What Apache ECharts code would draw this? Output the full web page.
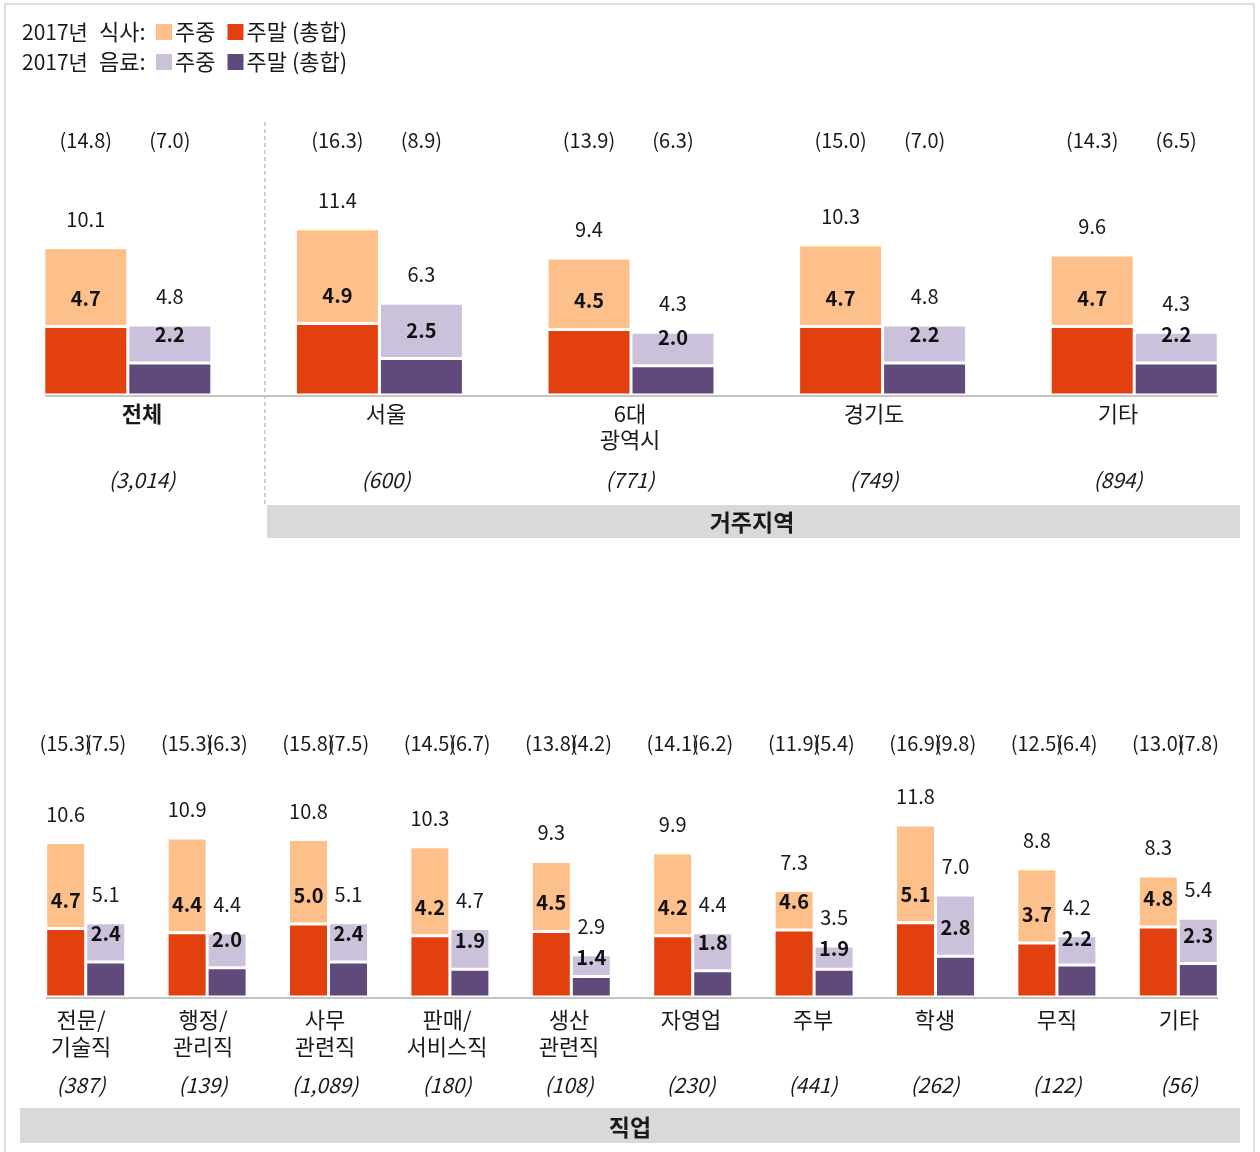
<!DOCTYPE html>
<html>
<head>
<meta charset="utf-8">
<script src="https://cdn.jsdelivr.net/npm/echarts@6/dist/echarts.min.js"></script>
<style>
html,body{margin:0;padding:0;background:#fff;}
#chart{width:1260px;height:1152px;}
</style>
</head>
<body>
<div id="chart"></div>
<script>
// ---- data: 거주지역 ----
const regionCats = ['전체', '서울', '6대\n광역시', '경기도', '기타'];
const regionN = ['(3,014)', '(600)', '(771)', '(749)', '(894)'];
const regionMealTotal = [10.1, 11.4, 9.4, 10.3, 9.6];
const regionMealWeekend = [4.7, 4.9, 4.5, 4.7, 4.7];
const regionDrinkTotal = [4.8, 6.3, 4.3, 4.8, 4.3];
const regionDrinkWeekend = [2.2, 2.5, 2.0, 2.2, 2.2];
const regionMealSum = ['(14.8)', '(16.3)', '(13.9)', '(15.0)', '(14.3)'];
const regionDrinkSum = ['(7.0)', '(8.9)', '(6.3)', '(7.0)', '(6.5)'];

// ---- data: 직업 ----
const jobCats = ['전문/\n기술직', '행정/\n관리직', '사무\n관련직', '판매/\n서비스직', '생산\n관련직', '자영업', '주부', '학생', '무직', '기타'];
const jobN = ['(387)', '(139)', '(1,089)', '(180)', '(108)', '(230)', '(441)', '(262)', '(122)', '(56)'];
const jobMealTotal = [10.6, 10.9, 10.8, 10.3, 9.3, 9.9, 7.3, 11.8, 8.8, 8.3];
const jobMealWeekend = [4.7, 4.4, 5.0, 4.2, 4.5, 4.2, 4.6, 5.1, 3.7, 4.8];
const jobDrinkTotal = [5.1, 4.4, 5.1, 4.7, 2.9, 4.4, 3.5, 7.0, 4.2, 5.4];
const jobDrinkWeekend = [2.4, 2.0, 2.4, 1.9, 1.4, 1.8, 1.9, 2.8, 2.2, 2.3];
const jobMealSum = ['(15.3)', '(15.3)', '(15.8)', '(14.5)', '(13.8)', '(14.1)', '(11.9)', '(16.9)', '(12.5)', '(13.0)'];
const jobDrinkSum = ['(7.5)', '(6.3)', '(7.5)', '(6.7)', '(4.2)', '(6.2)', '(5.4)', '(9.8)', '(6.4)', '(7.8)'];

// ---- style ----
const FONT = '"Noto Sans CJK KR", "Noto Sans", sans-serif';
const C_MEAL_WD = '#FEC08A', C_MEAL_WE = '#E2400E', C_DRK_WD = '#CBC1DB', C_DRK_WE = '#604A7B';
const TXT = '#1a1a1a';
const fmt = v => v.toFixed(1);
const sub = (a, b) => a.map((v, i) => +(v - b[i]).toFixed(2));

const PXU = 14.58, YMAX = 16, H = PXU * YMAX;
const TOP_BASE = 395, BOT_BASE = 997;
const MIN_SEP = 31; // minimum vertical separation between the two value labels of a bar

function barSeries(xi, yi, stack, weekend, total, cWe, cWd, width, nameWe, nameWd) {
  const common = {
    type: 'bar', xAxisIndex: xi, yAxisIndex: yi, stack: stack, barWidth: width, barGap: 0,
    animation: false
  };
  const weData = weekend.map((v, i) => {
    const sep = (total[i] - v) * PXU;
    const shift = sep < MIN_SEP ? MIN_SEP - sep : 0;
    return { value: v, label: { offset: [0, shift] } };
  });
  return [
    Object.assign({}, common, {
      name: nameWe, data: weData, z: 3,
      itemStyle: { color: cWe, borderColor: '#fff', borderWidth: 1.5 },
      label: { show: true, position: 'top', distance: 18.5, fontFamily: FONT, fontSize: 20, lineHeight: 20,
               fontWeight: 'bold', color: '#111', formatter: p => fmt(weekend[p.dataIndex]) }
    }),
    Object.assign({}, common, {
      name: nameWd, data: sub(total, weekend), z: 2,
      itemStyle: { color: cWd, borderColor: '#fff', borderWidth: 1.5 },
      label: { show: true, position: 'top', distance: 18.5, fontFamily: FONT, fontSize: 20, lineHeight: 20,
               color: TXT, formatter: p => fmt(total[p.dataIndex]) }
    })
  ];
}

function catLabelFormatter(cats, n, boldFirst) {
  return function (val, idx) {
    const lines = cats[idx].split('\n');
    if (lines.length === 1) lines.push(' ');
    const st = (boldFirst && idx === 0) ? 'b' : 'c';
    return lines.map(l => '{' + st + '|' + l + '}').join('\n') + '\n{n|' + n[idx] + '}';
  };
}
function sumFormatter(a, b) {
  return function (val, idx) { return '{a|' + a[idx] + '}{b|' + b[idx] + '}'; };
}

const chart = echarts.init(document.getElementById('chart'), null, { renderer: 'canvas' });

const legendBase = {
  itemWidth: 16, itemHeight: 16, itemGap: 12, icon: 'rect', selectedMode: false, padding: 0,
  itemStyle: { borderWidth: 0 },
  textStyle: { fontFamily: FONT, fontSize: 22, color: TXT, lineHeight: 22, padding: [0, 0, 0, -2] },
  formatter: n => n.replace(/^\S+ /, '')
};

const option = {
  animation: false,
  backgroundColor: '#fff',
  textStyle: { fontFamily: FONT },
  legend: [
    Object.assign({}, legendBase, { left: 156, top: 21, data: ['식사 주중', '식사 주말 (총합)'] }),
    Object.assign({}, legendBase, { left: 156, top: 51, data: ['음료 주중', '음료 주말 (총합)'] })
  ],
  grid: [
    { left: 2, width: 1258, top: TOP_BASE - H, height: H },
    { left: 20, width: 1220, top: 100, height: TOP_BASE - 100 },
    { left: 25, width: 1214, top: BOT_BASE - H, height: H },
    { left: 20, width: 1220, top: 700, height: BOT_BASE - 700 }
  ],
  xAxis: [
    { type: 'category', gridIndex: 0, data: regionCats, axisLine: { show: false }, axisTick: { show: false }, axisLabel: { show: false } },
    { type: 'category', gridIndex: 0, position: 'top', data: regionCats, axisLine: { show: false }, axisTick: { show: false },
      axisLabel: { interval: 0, margin: 11.7, formatter: sumFormatter(regionMealSum, regionDrinkSum),
        rich: { a: { width: 84, align: 'center', fontFamily: FONT, fontSize: 20, lineHeight: 20, color: TXT },
                b: { width: 84, align: 'center', fontFamily: FONT, fontSize: 20, lineHeight: 20, color: TXT } } } },
    { type: 'category', gridIndex: 1, data: regionCats, axisLine: { show: false }, axisTick: { show: false },
      axisLabel: { interval: 0, margin: 6, formatter: catLabelFormatter(regionCats, regionN, true),
        rich: { c: { fontFamily: FONT, fontSize: 22, lineHeight: 26, color: TXT, align: 'center' },
                b: { fontFamily: FONT, fontSize: 22, lineHeight: 26, color: TXT, fontWeight: 'bold', align: 'center' },
                n: { fontFamily: FONT, fontSize: 21, lineHeight: 54, color: TXT, fontStyle: 'italic', align: 'center' } } } },
    { type: 'category', gridIndex: 2, data: jobCats, axisLine: { show: false }, axisTick: { show: false }, axisLabel: { show: false } },
    { type: 'category', gridIndex: 2, position: 'top', data: jobCats, axisLine: { show: false }, axisTick: { show: false },
      axisLabel: { interval: 0, margin: 10.7, formatter: sumFormatter(jobMealSum, jobDrinkSum),
        rich: { a: { width: 40, align: 'center', fontFamily: FONT, fontSize: 20, lineHeight: 20, color: TXT },
                b: { width: 40, align: 'center', fontFamily: FONT, fontSize: 20, lineHeight: 20, color: TXT } } } },
    { type: 'category', gridIndex: 3, data: jobCats, axisLine: { show: false }, axisTick: { show: false },
      axisLabel: { interval: 0, margin: 9.5, formatter: catLabelFormatter(jobCats, jobN, false),
        rich: { c: { fontFamily: FONT, fontSize: 22, lineHeight: 27, color: TXT, align: 'center' },
                n: { fontFamily: FONT, fontSize: 21, lineHeight: 49, color: TXT, fontStyle: 'italic', align: 'center' } } } }
  ],
  yAxis: [
    { type: 'value', gridIndex: 0, min: 0, max: YMAX, show: false },
    { type: 'value', gridIndex: 1, min: 0, max: 1, show: false },
    { type: 'value', gridIndex: 2, min: 0, max: YMAX, show: false },
    { type: 'value', gridIndex: 3, min: 0, max: 1, show: false }
  ],
  series: [].concat(
    barSeries(0, 0, 'mealR', regionMealWeekend, regionMealTotal, C_MEAL_WE, C_MEAL_WD, 84, '식사 주말 (총합)', '식사 주중'),
    barSeries(0, 0, 'drinkR', regionDrinkWeekend, regionDrinkTotal, C_DRK_WE, C_DRK_WD, 84, '음료 주말 (총합)', '음료 주중'),
    barSeries(3, 2, 'mealJ', jobMealWeekend, jobMealTotal, C_MEAL_WE, C_MEAL_WD, 40, '식사 주말 (총합)', '식사 주중'),
    barSeries(3, 2, 'drinkJ', jobDrinkWeekend, jobDrinkTotal, C_DRK_WE, C_DRK_WD, 40, '음료 주말 (총합)', '음료 주중')
  ),
  graphic: [
    { type: 'rect', silent: true, shape: { x: 5, y: 4, width: 1249, height: 1170 },
      style: { fill: 'none', stroke: '#d4d4d4', lineWidth: 1.5 }, z: 0 },
    { type: 'text', style: { text: '2017년', x: 22, y: 32, verticalAlign: 'middle', font: '21px ' + FONT, fill: TXT } },
    { type: 'text', style: { text: '식사:', x: 99, y: 32, verticalAlign: 'middle', font: '22px ' + FONT, fill: TXT } },
    { type: 'text', style: { text: '2017년', x: 22, y: 62, verticalAlign: 'middle', font: '21px ' + FONT, fill: TXT } },
    { type: 'text', style: { text: '음료:', x: 99, y: 62, verticalAlign: 'middle', font: '22px ' + FONT, fill: TXT } },
    { type: 'line', silent: true, shape: { x1: 45, y1: TOP_BASE + 1, x2: 1218, y2: TOP_BASE + 1 },
      style: { stroke: '#c4c4c4', lineWidth: 2 }, z: 10 },
    { type: 'line', silent: true, shape: { x1: 46, y1: BOT_BASE + 1, x2: 1218, y2: BOT_BASE + 1 },
      style: { stroke: '#c4c4c4', lineWidth: 2 }, z: 10 },
    { type: 'line', silent: true, shape: { x1: 265, y1: 122, x2: 265, y2: 504 },
      style: { stroke: '#b0b0b0', lineWidth: 1.2, lineDash: [4, 3] } },
    { type: 'rect', silent: true, shape: { x: 267, y: 505, width: 973, height: 33 }, style: { fill: '#d9d9d9' } },
    { type: 'text', style: { text: '거주지역', x: 752, y: 522, align: 'center', verticalAlign: 'middle', font: 'bold 23px ' + FONT, fill: TXT } },
    { type: 'rect', silent: true, shape: { x: 20, y: 1108, width: 1220, height: 35 }, style: { fill: '#d9d9d9' } },
    { type: 'text', style: { text: '직업', x: 630, y: 1127, align: 'center', verticalAlign: 'middle', font: 'bold 23px ' + FONT, fill: TXT } }
  ]
};
chart.setOption(option);
</script>
</body>
</html>
